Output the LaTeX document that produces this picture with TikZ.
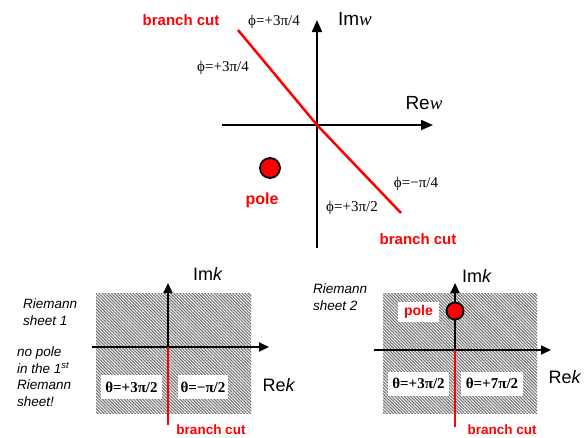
\documentclass[tikz,border=0pt]{standalone}
\usepackage{fontspec}
\setmainfont{Liberation Serif}
\setsansfont{Liberation Sans}
\usetikzlibrary{arrows.meta,patterns.meta}
\begin{document}
\begin{tikzpicture}[x=1pt,y=-1pt,
  axisbig/.style={line width=2pt,-{Triangle[length=12pt,width=10pt]}},
  axissmall/.style={line width=1.8pt,-{Triangle[length=10pt,width=9pt]}},
  cutline/.style={draw=red,line width=2.5pt},
  redlbl/.style={text=red,font=\sffamily\bfseries\fontsize{15}{17}\selectfont,inner sep=0pt},
  phil/.style={font=\fontsize{15}{17}\selectfont,inner sep=0pt},
  axlbl/.style={font=\sffamily\fontsize{19}{21}\selectfont,inner sep=0pt},
  sheetlbl/.style={font=\sffamily\itshape\fontsize{13.5}{16.5}\selectfont,inner sep=0pt,align=left,anchor=north west},
  thbox/.style={fill=white,font=\bfseries\fontsize{15}{17}\selectfont,minimum height=24pt,inner sep=0pt},
  hatch/.style={fill=white,postaction={pattern={Lines[angle=-45,distance=2.2pt,line width=1.1pt]},pattern color=gray!90!black}},
  polec/.style={circle,fill=red,draw=black,line width=1.8pt,inner sep=0pt}
]
\useasboundingbox (0,0) rectangle (588,437);

% ---------- top w-plane ----------
\coordinate (Ot) at (317,125);
\coordinate (tB) at (317,248);
\coordinate (tT) at (317,20);
\coordinate (tL) at (222,125);
\coordinate (tR) at (433,125);
\coordinate (cA) at (238,30);
\coordinate (cB) at (401,213);
\draw[axisbig] (tB) -- (tT);
\draw[axisbig] (tL) -- (tR);
\draw[cutline] (cA) -- (Ot) -- (cB);
\node[polec,minimum size=20pt] (pt) at (270,168) {};
\node[redlbl,font=\sffamily\bfseries\fontsize{16}{18}\selectfont] (ptl) at (262,200) {pole};
\node[redlbl] (bc1) at (181,20) {branch cut};
\node[redlbl] (bc2) at (418,239) {branch cut};
\node[phil] (p1) at (274,22) {ϕ=+3π/4};
\node[phil] (p2) at (223,68) {ϕ=+3π/4};
\node[phil] (p3) at (416,184) {ϕ=−π/4};
\node[phil] (p4) at (352,208) {ϕ=+3π/2};
\node[axlbl] (imw) at (355,19) {Im\textrm{\itshape w}};
\node[axlbl] (rew) at (424,103) {Re\textrm{\itshape w}};

% ---------- bottom left: sheet 1 ----------
\path[hatch] (96,293) rectangle (251,413);
\coordinate (O1) at (168,347);
\coordinate (v1T) at (168,283);
\coordinate (v1B) at (168,425);
\coordinate (h1L) at (92,347);
\coordinate (h1R) at (269,347);
\draw[axissmall] (O1) -- (v1T);
\draw[axissmall] (h1L) -- (h1R);
\draw[cutline] (O1) -- (v1B);
\node[thbox,minimum width=61pt] (t1a) at (131.5,387) {θ=+3π/2};
\node[thbox,minimum width=50pt] (t1b) at (203,387) {θ=−π/2};
\node[axlbl,font=\sffamily\fontsize{18}{20}\selectfont] (im1) at (208,274) {Im\textit{k}};
\node[axlbl,font=\sffamily\fontsize{18}{20}\selectfont] (re1) at (279,385) {Re\textit{k}};
\node[sheetlbl] (s1) at (23,299) {Riemann\\sheet 1};
\node[sheetlbl] (np) at (17,347) {no pole\\in the 1\textsuperscript{st}\\Riemann\\sheet!};
\node[redlbl,font=\sffamily\bfseries\fontsize{13.5}{16}\selectfont] (bc3) at (211,429.5) {branch cut};

% ---------- bottom right: sheet 2 ----------
\path[hatch] (383,293) rectangle (537,413);
\coordinate (O2) at (455,350);
\coordinate (v2T) at (455,283);
\coordinate (v2B) at (455,427);
\coordinate (h2L) at (374,350);
\coordinate (h2R) at (551,350);
\draw[axissmall] (O2) -- (v2T);
\draw[axissmall] (h2L) -- (h2R);
\draw[cutline] (O2) -- (v2B);
\node[polec,minimum size=17pt] (pb) at (455,311) {};
\node[fill=white,minimum width=41pt,minimum height=20pt,inner sep=0pt,text=red,font=\sffamily\bfseries\fontsize{14}{16}\selectfont] (pbl) at (418.5,312) {pole};
\node[thbox,minimum width=61pt] (t2a) at (418.5,383.5) {θ=+3π/2};
\node[thbox,minimum width=62pt] (t2b) at (492,383.5) {θ=+7π/2};
\node[axlbl,font=\sffamily\fontsize{18}{20}\selectfont] (im2) at (477,276) {Im\textit{k}};
\node[axlbl,font=\sffamily\fontsize{18}{20}\selectfont] (re2) at (565,377) {Re\textit{k}};
\node[sheetlbl] (s2) at (313,284) {Riemann\\sheet 2};
\node[redlbl,font=\sffamily\bfseries\fontsize{13.5}{16}\selectfont] (bc4) at (502,429.5) {branch cut};
\end{tikzpicture}
\end{document}
